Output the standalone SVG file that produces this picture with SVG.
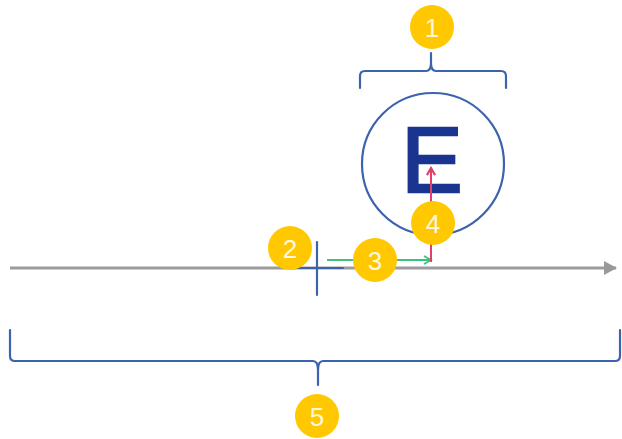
<svg xmlns="http://www.w3.org/2000/svg" width="622" height="439" viewBox="0 0 622 439">
<defs>
<style>
.blue{fill:none;stroke:#3c63ae;stroke-width:2.2;stroke-linecap:round;stroke-linejoin:round}
.badge circle{fill:#ffc800}
.badge text{font-family:"Liberation Sans",Arial,sans-serif;font-size:26px;fill:#fff7e0;text-anchor:middle}
</style>
<marker id="ag" markerWidth="10" markerHeight="10" refX="8" refY="5" orient="auto" markerUnits="userSpaceOnUse"><path d="M1,1 L8,5 L1,9" fill="none" stroke="#3cc27a" stroke-width="1.8"/></marker>
<marker id="ar" markerWidth="10" markerHeight="10" refX="8" refY="5" orient="auto" markerUnits="userSpaceOnUse"><path d="M1,1 L8,5 L1,9" fill="none" stroke="#e0406a" stroke-width="1.8"/></marker>
<marker id="ay" markerWidth="14" markerHeight="14" refX="12" refY="7" orient="auto" markerUnits="userSpaceOnUse"><path d="M0,0 L13,7 L0,14 Z" fill="#999"/></marker>
</defs>
<rect width="622" height="439" fill="#fff"/>
<g id="connectors">
<line x1="10" y1="268" x2="616" y2="268" stroke="#9c9c9c" stroke-width="3" marker-end="url(#ay)"/>
<line x1="327" y1="260" x2="431" y2="260" stroke="#3cc27a" stroke-width="2" marker-end="url(#ag)"/>
<line x1="431" y1="262" x2="431" y2="168" stroke="#e0406a" stroke-width="2" marker-end="url(#ar)"/>
</g>
<g id="brace-top"><path class="blue" d="M360,88 V76 Q360,71 365,71 H426 Q431,71 431,63 V53 M431,63 Q431,71 436,71 H501 Q506,71 506,76 V88"/></g>
<g id="brace-bottom"><path class="blue" d="M10,330 V356 Q10,361 15,361 H313 Q318,361 318,370 V385 M318,370 Q318,361 323,361 H615 Q620,361 620,356 V330"/></g>
<g id="cross"><path class="blue" d="M292,268 H343 M317,242 V295"/></g>
<g id="circle-E">
<circle cx="433" cy="164" r="71" class="blue"/>
<text x="432" y="192" font-family="Liberation Sans,Arial,sans-serif" font-size="92" fill="#1a3590" stroke="#1a3590" stroke-width="2.4" text-anchor="middle">E</text>
</g>
<line x1="431" y1="200" x2="431" y2="168" stroke="#e0406a" stroke-width="2" marker-end="url(#ar)"/>
<g id="n1" class="badge"><circle cx="432" cy="27" r="22"/><text x="432" y="37">1</text></g>
<g id="n2" class="badge"><circle cx="290" cy="248" r="22"/><text x="290" y="258">2</text></g>
<g id="n3" class="badge"><circle cx="375" cy="260" r="22"/><text x="375" y="270">3</text></g>
<g id="n4" class="badge"><circle cx="433" cy="223" r="22"/><text x="433" y="233">4</text></g>
<g id="n5" class="badge"><circle cx="317" cy="416" r="22"/><text x="317" y="426">5</text></g>
</svg>
